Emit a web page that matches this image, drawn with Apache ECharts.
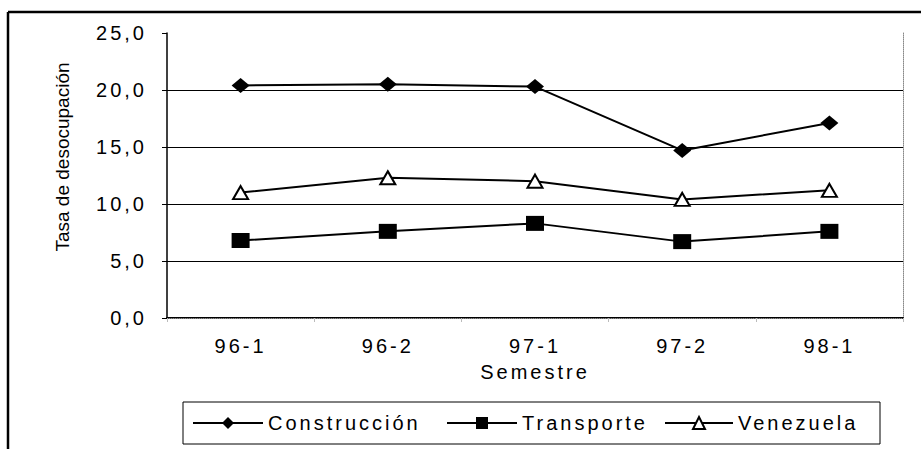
<!DOCTYPE html>
<html lang="es" style="height: 100%">
<head>
    <meta charset="utf-8">
    <style>
        /* el original tiene el texto muy espaciado */
        #container text { letter-spacing: 3px; }
    </style>
</head>
<body style="height: 100%; margin: 0; background: #fff">
<div id="container" style="width: 921px; height: 449px"></div>

<script type="text/javascript" src="https://fastly.jsdelivr.net/npm/echarts@6.0.0/dist/echarts.min.js"></script>
<script type="text/javascript">
    // datos
    var semestres = ['96-1', '96-2', '97-1', '97-2', '98-1'];
    var construccion = [20.4, 20.5, 20.3, 14.7, 17.1];
    var transporte = [6.8, 7.6, 8.3, 6.7, 7.6];
    var venezuela = [11.0, 12.3, 12.0, 10.4, 11.2];
    var yName = 'Tasa de desocupación';
    var xName = 'Semestre';

    var dom = document.getElementById('container');
    var myChart = echarts.init(dom, null, {
        renderer: 'svg'
    });
    var font = 'Liberation Sans';
    var option;

    function coma(v) {
        return v.toFixed(1).replace('.', ',');
    }

    option = {
        animation: false,
        backgroundColor: '#fff',
        textStyle: { fontFamily: font, color: '#000' },
        grid: {
            left: 167,
            right: 18,
            top: 33,
            bottom: 131
        },
        xAxis: [
            {
                type: 'category',
                data: semestres,
                name: xName,
                nameLocation: 'middle',
                nameGap: 44,
                nameTextStyle: { fontSize: 20, color: '#000', fontFamily: font },
                axisLine: { lineStyle: { color: '#000', width: 2 } },
                axisTick: { show: true, length: 4, lineStyle: { color: '#bbb' } },
                axisLabel: { margin: 18, fontSize: 20, color: '#000', fontFamily: font }
            },
            {
                type: 'category',
                data: semestres,
                position: 'top',
                axisLine: { lineStyle: { color: '#888', width: 1, type: 'dotted' } },
                axisTick: { show: false },
                axisLabel: { show: false }
            }
        ],
        yAxis: [
            {
                type: 'value',
                min: 0,
                max: 25,
                interval: 5,
                axisLine: { show: true, lineStyle: { color: '#000', width: 1.5 } },
                axisTick: { show: true, length: 5, lineStyle: { color: '#000' } },
                axisLabel: { margin: 20, fontSize: 20, color: '#000', fontFamily: font, formatter: coma },
                splitLine: { show: true, showMaxLine: false, lineStyle: { color: '#000', width: 1 } }
            },
            {
                type: 'value',
                min: 0,
                max: 25,
                interval: 5,
                position: 'right',
                axisLine: { show: true, lineStyle: { color: '#888', width: 1, type: 'dotted' } },
                axisTick: { show: false },
                axisLabel: { show: false },
                splitLine: { show: false }
            }
        ],
        legend: [
            {
                left: 192, top: 413, padding: 0,
                itemWidth: 70, itemHeight: 15,
                data: ['Construcción'],
                textStyle: { fontSize: 20, color: '#000', fontFamily: font }
            },
            {
                left: 446, top: 413, padding: 0,
                itemWidth: 70, itemHeight: 15,
                data: ['Transporte'],
                textStyle: { fontSize: 20, color: '#000', fontFamily: font }
            },
            {
                left: 664, top: 413, padding: 0,
                itemWidth: 68, itemHeight: 15,
                data: ['Venezuela'],
                textStyle: { fontSize: 20, color: '#000', fontFamily: font }
            }
        ],
        graphic: [
            // marco exterior (solo arriba e izquierda se ven)
            { type: 'line', shape: { x1: 8, y1: 12, x2: 921, y2: 12 }, style: { stroke: '#000', lineWidth: 2.5 } },
            { type: 'line', shape: { x1: 8, y1: 12, x2: 8, y2: 449 }, style: { stroke: '#000', lineWidth: 2.5 } },
            // caja de la leyenda
            { type: 'rect', shape: { x: 183, y: 402, width: 697, height: 42 }, style: { fill: 'none', stroke: '#000', lineWidth: 1 } },
            // nombre del eje y
            {
                type: 'text', x: 62, y: 157, rotation: Math.PI / 2,
                style: { text: yName, font: '19px "Liberation Sans"', fill: '#000', textAlign: 'center', textVerticalAlign: 'middle' }
            }
        ],
        series: [
            {
                name: 'Construcción',
                type: 'line',
                data: construccion,
                symbol: 'diamond',
                symbolSize: [18, 15],
                lineStyle: { color: '#000', width: 2 },
                itemStyle: { color: '#000' }
            },
            {
                name: 'Transporte',
                type: 'line',
                data: transporte,
                symbol: 'rect',
                symbolSize: [18, 15],
                lineStyle: { color: '#000', width: 2 },
                itemStyle: { color: '#000' }
            },
            {
                name: 'Venezuela',
                type: 'line',
                data: venezuela,
                symbol: 'triangle',
                symbolSize: [15, 13],
                lineStyle: { color: '#000', width: 2 },
                itemStyle: { color: '#fff', borderColor: '#000', borderWidth: 2 }
            }
        ]
    };

    if (option && typeof option === 'object') {
        myChart.setOption(option);
    }
    // el título del eje y no lleva espaciado
    dom.querySelectorAll('text').forEach(function (t) {
        if (t.textContent === yName) t.style.letterSpacing = '0px';
    });
</script>
</body>
</html>
